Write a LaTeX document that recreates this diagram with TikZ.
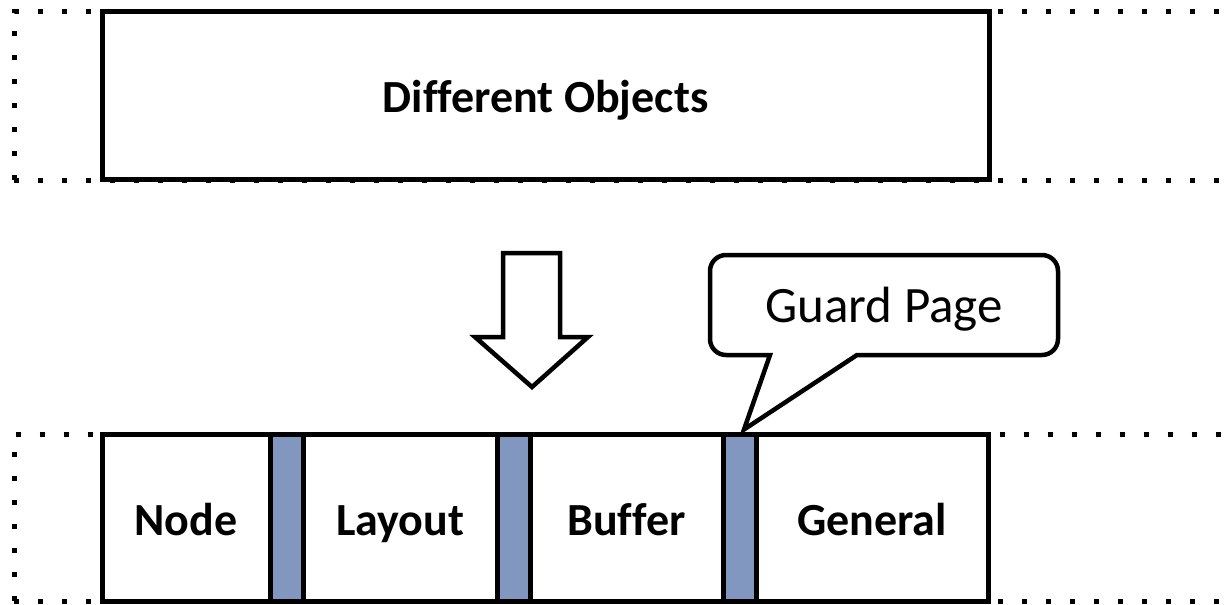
\documentclass[tikz,border=0pt]{standalone}
\usepackage{fontspec}
\setmainfont{Carlito}[Ligatures=NoCommon]
\usetikzlibrary{calc}
\definecolor{guardblue}{RGB}{129,151,191}
\tikzset{
  region/.style={line width=5pt, dash pattern=on 5pt off 19pt},
  blockbox/.style={draw, fill=white, line width=5pt, inner sep=0pt,
    text height=40pt, text depth=5pt,
    font=\fontsize{46}{50}\selectfont\bfseries},
  guardbox/.style={draw, fill=guardblue, line width=5pt, inner sep=0pt,
    minimum width=33pt, minimum height=166.5pt},
  lowbox/.style={blockbox, minimum height=166.5pt},
  outline/.style={draw, fill=white, line width=4.5pt, line join=miter},
  calloutfont/.style={inner sep=0pt, text height=40pt, text depth=6pt,
    font=\fontsize{51}{54}\selectfont},
}
\begin{document}
\begin{tikzpicture}[x=1pt, y=-1pt]
  \useasboundingbox (0,0) rectangle (1232,605);

  % dotted regions (open to the right)
  \draw[region] (14,180) -- (14,11.5) -- (1240,11.5);
  \draw[region] (14,180) -- (1240,180);
  \draw[region] (14,601) -- (14,434.5) -- (1240,434.5);
  \draw[region] (14,601) -- (1240,601);

  % upper block
  \node[blockbox, minimum width=886.5pt, minimum height=168pt] (objs) at (545.75,95) {Different Objects};

  % lower row of pools separated by guard pages
  \node[lowbox, minimum width=168pt] (node) at (186,517.75) {Node};
  \node[guardbox] (g1) at (286.5,517.75) {};
  \node[lowbox, minimum width=194pt] (layout) at (400,517.75) {Layout};
  \node[guardbox] (g2) at (513.5,517.75) {};
  \node[lowbox, minimum width=193pt] (buffer) at (626.5,517.75) {Buffer};
  \node[guardbox] (g3) at (739.5,517.75) {};
  \node[lowbox, minimum width=232pt] (general) at (872,517.75) {General};

  % block arrow from the objects down to the pools
  \draw[outline] (503,253) -- (560,253) -- (560,337) -- (588,337) -- (532,387)
    -- (475,337) -- (503,337) -- cycle;

  % callout pointing at a guard page
  \coordinate (tip) at ($(g3.north)+(4.5,-2.5)$);
  \draw[outline] (770,355) [rounded corners=16pt] -- (710,355) -- (710,255)
    -- (1058,255) -- (1058,355) [sharp corners] -- (857,355) -- (tip) -- cycle;
  \node[calloutfont] (gp) at (884,305) {Guard Page};
\end{tikzpicture}
\end{document}
